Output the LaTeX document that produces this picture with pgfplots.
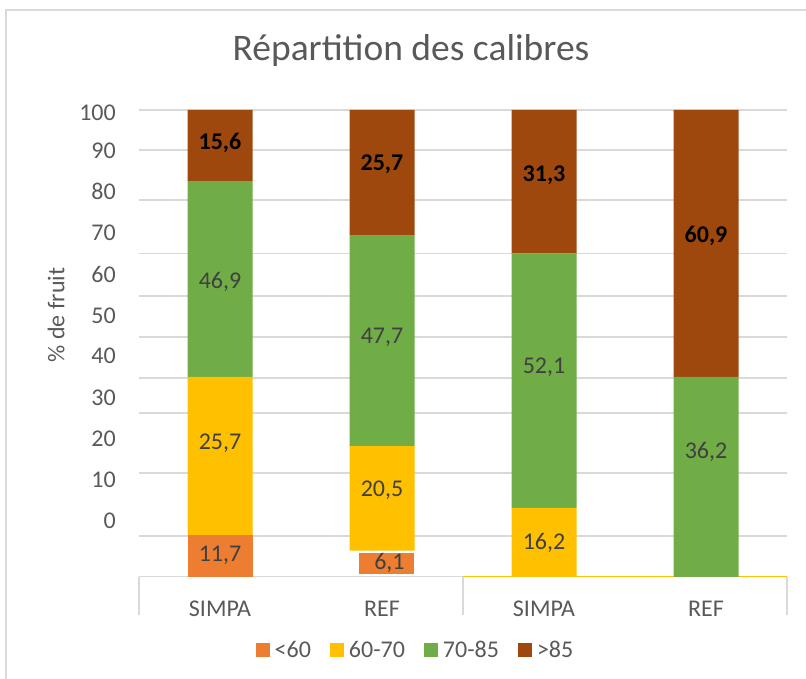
\documentclass[border=0pt]{standalone}
\usepackage{pgfplots}
\pgfplotsset{compat=1.18}
\usepackage{fontspec}
\setmainfont{Carlito}

\definecolor{c60}{HTML}{ED7D31}
\definecolor{c6070}{HTML}{FFC000}
\definecolor{c7085}{HTML}{70AD47}
\definecolor{c85}{HTML}{9E480E}
\definecolor{gridc}{HTML}{D9D9D9}
\definecolor{txt}{HTML}{595959}
\definecolor{lbl}{HTML}{404040}

\newcommand{\fs}[1]{\fontsize{#1}{#1}\selectfont}

% same box for every layer
\pgfplotsset{
  calib/.style={
    scale only axis, width=648pt, height=467pt,
    at={(139pt,102pt)}, anchor=south west,
    xmin=-0.5, xmax=3.5, ymin=0, ymax=100,
  },
}

\begin{document}
\begin{tikzpicture}[x=1pt,y=1pt]
\useasboundingbox (0,0) rectangle (806,679);
\draw[gridc, line width=1.3pt] (6,0) -- (6,669) -- (806,669);

\begin{axis}[calib, ybar stacked, bar width=65pt,
  axis line style={draw=none},
  tick pos=left,
  major tick length=0pt,
  xtick={0,1,2,3}, xticklabels={SIMPA,REF,SIMPA,REF},
  xticklabel style={font=\fs{24}, text=txt, anchor=center, yshift=-32pt},
  extra x ticks={-0.5,1.5,3.5}, extra x tick labels={},
  extra x tick style={major tick length=38pt, tick align=outside,
                      major tick style={draw=gridc, line width=1.3pt}},
  ytick={12.06,20.77,29.70,38.39,47.32,55.89,64.67,73.60,82.51,91.22,99.42},
  yticklabels={0,10,20,30,40,50,60,70,80,90,100},
  yticklabel style={font=\fs{24}, text=txt, anchor=east, inner sep=0pt, xshift=-23pt},
  extra y ticks={8.78,22.27,35.12,42.61,51.39,60.17,69.31,80.73,91.43,100},
  extra y tick labels={},
  extra y tick style={ymajorgrids=true, major grid style={draw=gridc, line width=1.3pt}},
  title={Répartition des calibres},
  title style={at={(0.4198,1.1135)}, anchor=center, font=\fs{37.5}, text=txt},
  ylabel={\% de fruit},
  ylabel style={at={(-0.128,0.561)}, anchor=center, font=\fs{24}, text=txt},
  legend image code/.code={\fill[#1] (0pt,-7pt) rectangle (14pt,7pt);},
  legend style={at={(0.4267,-0.1563)}, anchor=center, draw=none, fill=none,
                legend columns=-1, font=\fs{24}, text=txt,
                /tikz/every odd column/.append style={column sep=3pt},
                /tikz/every even column/.append style={column sep=17pt}},
]
\addplot[fill=c60, draw=none] coordinates {(0,9.00) (1,0) (2,0) (3,0)};
\addlegendentry{<60}
\addplot[fill=none, draw=none, forget plot] coordinates {(0,0) (1,5.63) (2,0) (3,0)};
\addplot[fill=c6070, draw=none] coordinates {(0,33.83) (1,22.42) (2,14.78) (3,0)};
\addlegendentry{60-70}
\addplot[fill=c7085, draw=none] coordinates {(0,41.82) (1,45.03) (2,54.54) (3,42.83)};
\addlegendentry{70-85}
\addplot[fill=c85, draw=none] coordinates {(0,15.35) (1,26.92) (2,30.69) (3,57.17)};
\addlegendentry{>85}
\draw[gridc, line width=1.3pt] (axis cs:-0.5,0) -- (axis cs:1.5,0);
\draw[c6070, line width=1.6pt] (axis cs:1.5,0) -- (axis cs:3.5,0);
\end{axis}

% the narrow orange piece of the second bar
\begin{axis}[calib, hide axis, ybar stacked, bar width=55pt, bar shift=4pt]
\addplot[fill=none, draw=none] coordinates {(1,0.71)};
\addplot[fill=c60, draw=none] coordinates {(1,4.50)};
\end{axis}

% value labels
\begin{axis}[calib, hide axis, nodes near coords, point meta=explicit symbolic]
\addplot[only marks, mark=none,
  nodes near coords style={font=\fs{24}, text=lbl, anchor=center}]
  table[meta=l] {
x y l
0 4.71 11,7
0 28.63 25,7
0 63.23 46,9
1.046 2.93 6,1
1 18.48 20,5
1 51.39 47,7
2 7.22 16,2
2 44.90 52,1
3 26.70 36,2
};
\addplot[only marks, mark=none,
  nodes near coords style={font=\fs{24}\bfseries, text=black, anchor=center}]
  table[meta=l] {
x y l
0 92.87 15,6
1 88.37 25,7
2 86.08 31,3
3 73.02 60,9
};
\end{axis}
\end{tikzpicture}
\end{document}
